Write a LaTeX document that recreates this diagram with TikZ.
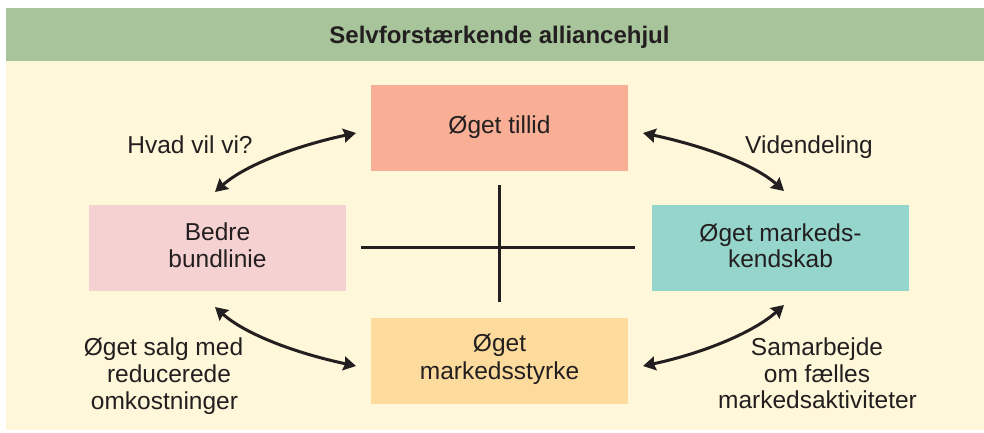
\documentclass[tikz,border=0pt]{standalone}
\usepackage{fontspec}
\setmainfont{Liberation Sans}
\usetikzlibrary{arrows.meta}

\definecolor{headgreen}{RGB}{168,196,154}
\definecolor{cream}{RGB}{254,247,217}
\definecolor{salmon}{RGB}{248,175,149}
\definecolor{rosa}{RGB}{245,209,210}
\definecolor{teal}{RGB}{149,213,203}
\definecolor{apricot}{RGB}{253,219,157}
\definecolor{ink}{RGB}{35,31,32}

\tikzset{
  box/.style={draw=none, minimum width=257pt, minimum height=86pt, inner sep=0pt},
  txt/.style={anchor=base, inner sep=0pt, text=ink, font=\fontsize{24.5}{27}\selectfont},
  cyctip/.tip={Stealth[length=12.5pt,width=14pt,inset=1.5pt]},
  cycarrow/.style={ink, line width=3pt, cyctip-cyctip},
  crossline/.style={ink, line width=3pt}
}

\begin{document}
\begin{tikzpicture}[x=1pt, y=1pt]
  % page frame and background bands
  \useasboundingbox (0,0) rectangle (984,-432);
  \fill[white] (0,0) rectangle (984,-432);
  \fill[cream] (6,-61) rectangle (984,-430);
  \fill[headgreen] (6,-8) rectangle (984,-61);
  \node[anchor=base, inner sep=0pt, text=ink, font=\fontsize{24}{27}\selectfont\bfseries]
    (title) at (499.5,-43) {Selvforstærkende alliancehjul};

  % the four boxes
  \node[box, fill=salmon]  (tillid)   at (499.5,-128)   {};
  \node[box, fill=rosa]    (bundlinie) at (217.5,-247.5) {};
  \node[box, fill=teal]    (kendskab) at (780.5,-247.5) {};
  \node[box, fill=apricot] (styrke)   at (499.5,-361)   {};

  \node[txt] (tillidT) at (499.5,-133) {Øget tillid};
  \node[txt] (bundA) at (217.5,-240) {Bedre};
  \node[txt] (bundB) at (217.5,-267.7) {bundlinie};
  \node[txt] (kendA) at (780.5,-241) {Øget markeds-};
  \node[txt] (kendB) at (780.5,-267.7) {kendskab};
  \node[txt] (styrA) at (499.5,-351.7) {Øget};
  \node[txt] (styrB) at (499.5,-379.3) {markedsstyrke};

  % central cross
  \coordinate (hl) at (361,-247);
  \coordinate (hr) at (635,-247);
  \coordinate (vt) at (499,-185);
  \coordinate (vb) at (499,-302);
  \draw[crossline] (hl) -- (hr);
  \draw[crossline] (vt) -- (vb);

  % arrow end points around the wheel
  \coordinate (tlA) at (356,-133);
  \coordinate (tlB) at (215,-192);
  \coordinate (trA) at (643,-133);
  \coordinate (trB) at (784,-191);
  \coordinate (blA) at (356,-366);
  \coordinate (blB) at (215,-307);
  \coordinate (brA) at (643,-366);
  \coordinate (brB) at (784,-305);

  \draw[cycarrow] (tlB) .. controls +(42:39) and +(192:63) .. (tlA);
  \draw[cycarrow] (trB) .. controls +(138:39) and +(-12:63) .. (trA);
  \draw[cycarrow] (blB) .. controls +(-42:40) and +(168:63) .. (blA);
  \draw[cycarrow] (brB) .. controls +(-138:40) and +(12:63) .. (brA);

  % arrow captions
  \node[txt] (hvad) at (190,-153) {Hvad vil vi?};
  \node[txt] (viden) at (809,-153) {Videndeling};
  \node[txt] (salgA) at (163.5,-355.7) {Øget salg med};
  \node[txt] (salgB) at (169,-382.7) {reducerede};
  \node[txt] (salgC) at (164.5,-409) {omkostninger};
  \node[txt] (samA) at (817,-355.7) {Samarbejde};
  \node[txt] (samB) at (817,-382) {om fælles};
  \node[txt] (samC) at (817.5,-408.7) {markedsaktiviteter};
\end{tikzpicture}
\end{document}
